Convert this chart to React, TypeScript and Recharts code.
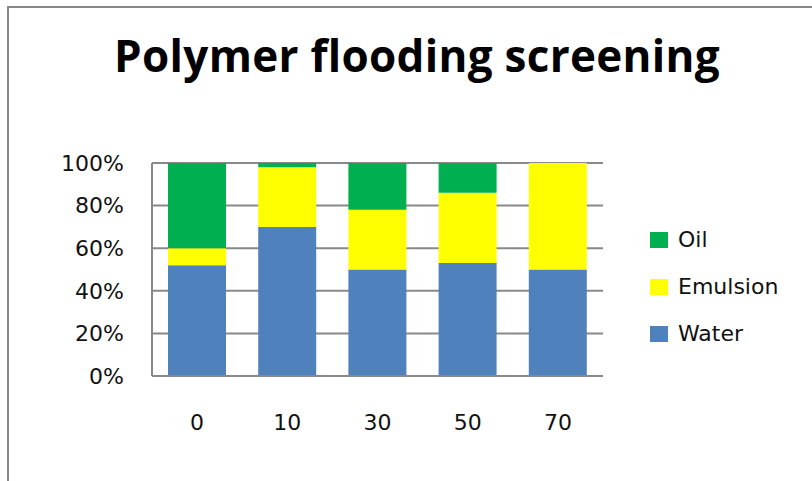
import { Bar, BarChart, CartesianGrid, XAxis, YAxis } from "recharts";

const categories = ["0", "10", "30", "50", "70"];
const water = [52, 70, 50, 53, 50];
const emulsion = [8, 28, 28, 33, 50];
const oil = [40, 2, 22, 14, 0];
const yTicks = [0, 20, 40, 60, 80, 100];

const series = [
  { key: "water", name: "Water", color: "#4F81BD" },
  { key: "emulsion", name: "Emulsion", color: "#FFFF00" },
  { key: "oil", name: "Oil", color: "#00B050" },
];

const data = categories.map((label, i) => ({
  label,
  water: water[i],
  emulsion: emulsion[i],
  oil: oil[i],
}));

const font = "'DejaVu Sans', sans-serif";
const gridColor = "#898989";

function LegendBox() {
  // legend lists the top series first, like the stacked order
  return (
    <div style={{ position: "absolute", left: 650, top: 216, fontFamily: font, fontSize: 22, color: "#111" }}>
      {[...series].reverse().map((s) => (
        <div key={s.key} style={{ display: "flex", alignItems: "center", height: 47 }}>
          <span style={{ width: 18, height: 16, background: s.color, marginRight: 10 }} />
          <span>{s.name}</span>
        </div>
      ))}
    </div>
  );
}

export default function App() {
  return (
    <div style={{ position: "absolute", left: 0, top: 0, width: 812, height: 481, background: "#fff", overflow: "hidden" }}>
      <div
        style={{
          position: "absolute",
          left: 7,
          top: 6,
          width: 900,
          height: 600,
          borderLeft: `2px solid ${gridColor}`,
          borderTop: `2px solid ${gridColor}`,
        }}
      />
      <div
        style={{
          position: "absolute",
          left: 0,
          width: 834,
          top: 25,
          textAlign: "center",
          fontFamily: "'Open Sans', sans-serif",
          fontWeight: 700,
          fontSize: 44,
          letterSpacing: 0.3,
          color: "#000",
        }}
      >
        Polymer flooding screening
      </div>
      <BarChart
        width={812}
        height={481}
        data={data}
        margin={{ top: 163, right: 209, bottom: 75, left: 92 }}
        style={{ position: "absolute", left: 0, top: 0 }}
      >
        <CartesianGrid vertical={false} stroke={gridColor} strokeWidth={2} />
        <XAxis
          dataKey="label"
          height={30}
          tickLine={false}
          tickSize={0}
          tickMargin={38}
          axisLine={{ stroke: gridColor, strokeWidth: 2 }}
          tick={{ fill: "#111", fontSize: 22, fontFamily: font }}
        />
        <YAxis
          width={60}
          domain={[0, 100]}
          ticks={yTicks}
          tickFormatter={(v) => `${v}%`}
          tickLine={false}
          tickSize={0}
          tickMargin={28}
          axisLine={{ stroke: gridColor, strokeWidth: 2 }}
          tick={{ fill: "#111", fontSize: 22, fontFamily: font }}
        />
        {series.map((s) => (
          <Bar
            key={s.key}
            dataKey={s.key}
            name={s.name}
            stackId="a"
            fill={s.color}
            barSize={58}
            isAnimationActive={false}
          />
        ))}
      </BarChart>
      <LegendBox />
    </div>
  );
}
